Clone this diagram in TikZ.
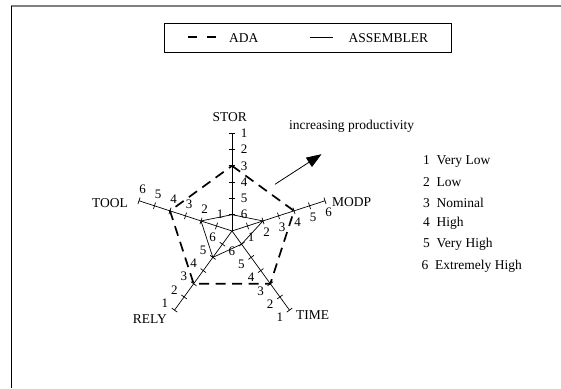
\documentclass[tikz,border=0pt]{standalone}
\usepackage{fontspec}
\setmainfont{Liberation Serif}
\usetikzlibrary{arrows.meta}

\begin{document}
\begin{tikzpicture}[x=1pt, y=1pt,
    txt/.style={font=\fontsize{13.5}{16}\selectfont, inner sep=0pt},
    ticklbl/.style={font=\fontsize{13}{15}\selectfont, inner sep=0pt},
    tickmark/.style={line width=0.7pt},
    ada/.style={line width=1.7pt, dash pattern=on 10pt off 6.5pt},
    asm/.style={line width=0.7pt}]
    \useasboundingbox (0,0) rectangle (561,388);

    % 外框
    \draw[gray, line width=1.2pt] (11,382) -- (561,382);
    \draw[line width=0.9pt] (11.5,382) -- (11.5,0);

    % 图例
    \node[draw, line width=0.8pt, minimum width=287pt, minimum height=29.4pt, inner sep=0pt] (legend) at (308,350) {};
    \draw[line width=2.4pt, dash pattern=on 9pt off 10pt] (188,351) -- (217,351);
    \node[txt, anchor=west] (adatxt) at (229,350) {ADA};
    \draw[asm] (309.5,351) -- (333,351);
    \node[txt, anchor=west] (asmtxt) at (348.5,350) {ASSEMBLER};

    % 雷达图
    \begin{scope}[shift={(232,157)}]
        \foreach \a/\nm/\inv in {90/stor/1, 18/modp/0, -54/time/1, 234/rely/1, 162/tool/0} {
            \draw[asm] (0,0) -- (\a:97.8);
            \foreach \j in {1,...,6} {
                \pgfmathtruncatemacro{\v}{\inv==1 ? 7-\j : \j}
                \coordinate (\nm-\v) at (\a:\j*16.3);
                \draw[tickmark] (\nm-\v) ++(\a+90:3.4) -- ++(\a-90:6.8);
                \path (\nm-\v) ++(\a-90:12) node[ticklbl] (\nm-n\v) {\v};
            }
        }

        % 轴名
        \node[txt] (stor) at (-2.3,113.7) {STOR};
        \node[txt, anchor=west] (modp) at (100,28.7) {MODP};
        \node[txt, anchor=west] (time) at (64,-84) {TIME};
        \node[txt, anchor=east] (rely) at (-65,-88.3) {RELY};
        \node[txt, anchor=east] (tool) at (-104,27.7) {TOOL};

        % ADA（虚线）
        \draw[ada] (stor-3) -- (modp-4) -- (time-3) -- (rely-3) -- (tool-4) -- cycle;

        % ASSEMBLER（实线）
        \draw[asm] (stor-6) -- (modp-2) -- (time-6) -- (rely-5) -- (tool-2) -- cycle;
    \end{scope}

    % 生产率箭头
    \coordinate (prodtail) at (275,203.7);
    \coordinate (prodhead) at (321.5,233.8);
    \draw[line width=0.8pt, -{Triangle[length=15pt, width=11pt]}] (prodtail) -- (prodhead);
    \node[txt, anchor=west] (prod) at (289,261.3) {increasing productivity};

    % 等级说明
    \node[txt, anchor=west] (lv1) at (423,226.5) {1~~Very Low};
    \node[txt, anchor=west] (lv2) at (423,205.5) {2~~Low};
    \node[txt, anchor=west] (lv3) at (423,185.2) {3~~Nominal};
    \node[txt, anchor=west] (lv4) at (423,164.5) {4~~High};
    \node[txt, anchor=west] (lv5) at (423,143.3) {5~~Very High};
    \node[txt, anchor=west] (lv6) at (421.5,121.5) {6~~Extremely High};
\end{tikzpicture}
\end{document}
